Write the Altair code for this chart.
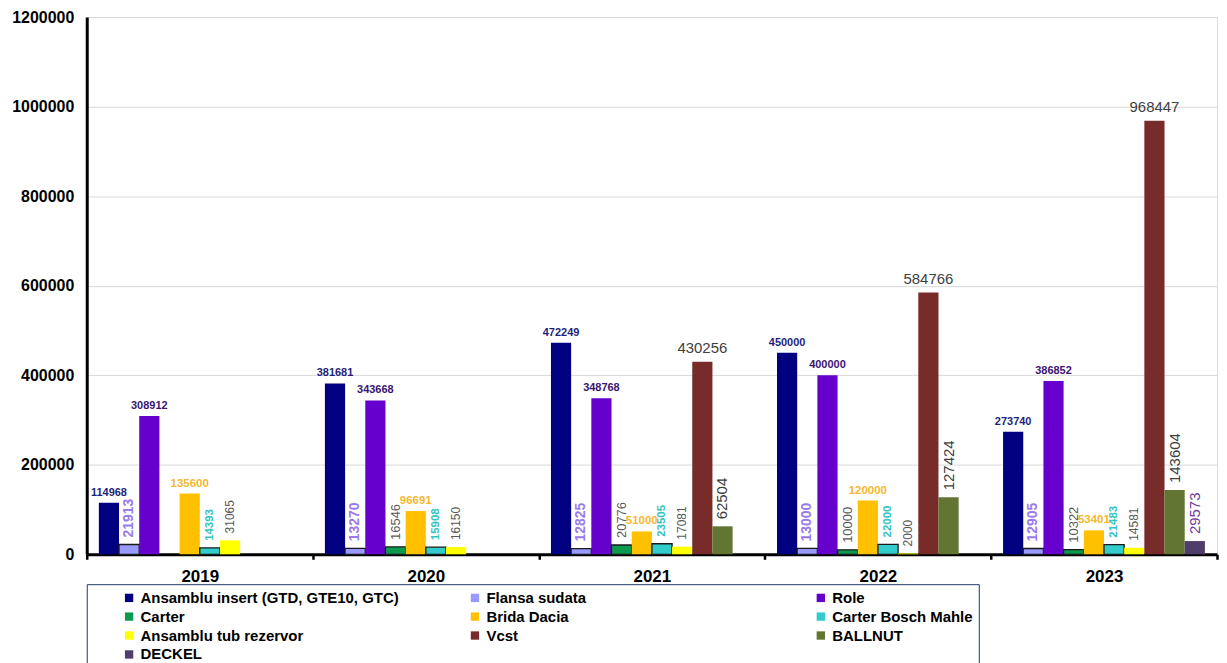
import altair as alt
import pandas as pd

years = ["2019", "2020", "2021", "2022", "2023"]
series = ["Ansamblu insert (GTD, GTE10, GTC)", "Flansa sudata", "Role", "Carter",
          "Brida Dacia", "Carter Bosch Mahle", "Ansamblu tub rezervor", "Vcst",
          "BALLNUT", "DECKEL"]

ansamblu = [114968, 381681, 472249, 450000, 273740]
flansa = [21913, 13270, 12825, 13000, 12905]
role = [308912, 343668, 348768, 400000, 386852]
carter = [None, 16546, 20776, 10000, 10322]
brida = [135600, 96691, 51000, 120000, 53401]
bosch = [14393, 15908, 23505, 22000, 21483]
tub = [31065, 16150, 17081, 2000, 14581]
vcst = [None, None, 430256, 584766, 968447]
ballnut = [None, None, 62504, 127424, 143604]
deckel = [None, None, None, None, 29573]

values_by_series = [ansamblu, flansa, role, carter, brida, bosch, tub, vcst, ballnut, deckel]

# styles
bar_colors = ["#000080", "#9999FF", "#6600CC", "#0E9A4E", "#FFC000", "#33CCCC",
              "#FFFF00", "#772C2A", "#637532", "#4F3D6B"]
outlined = [False, True, False, True, False, True, False, False, False, False]
label_colors = ["#1F1F7A", "#9B7BEA", "#3B1570", "#595959", "#F5B82E", "#33C3C3",
                "#595959", "#404040", "#404040", "#6A3D9A"]
label_sizes = [11, 14, 11, 13, 11.5, 11.5, 12, 15, 15, 15]
label_kind = ["hb", "vb", "hb", "vn", "hb", "vb", "vn", "hn", "vn", "vn"]

rows = []
for si, s in enumerate(series):
    for yi, y in enumerate(years):
        v = values_by_series[si][yi]
        if v is None:
            continue
        rows.append({
            "year": y, "series": s, "value": v,
            "stroke_c": "#1a1a1a" if outlined[si] else bar_colors[si],
            "sw": 1.3 if outlined[si] else 0.0,
            "lcolor": label_colors[si], "lsize": label_sizes[si],
            "kind": label_kind[si],
        })
df = pd.DataFrame(rows)

FONT = "Liberation Sans"

x_enc = alt.X("year:N", sort=years,
              scale=alt.Scale(paddingInner=0, paddingOuter=0),
              axis=alt.Axis(title=None, labelAngle=0, labelFont=FONT, labelFontSize=17,
                            labelFontWeight="bold", labelColor="black", labelPadding=9,
                            domainColor="black", domainWidth=3, tickBand="extent",
                            tickColor="black", tickWidth=2.5, tickSize=5, grid=False))
xo_enc = alt.XOffset("series:N", sort=series,
                     scale=alt.Scale(domain=series, paddingInner=0, paddingOuter=0.6))
y_enc = alt.Y("value:Q",
              scale=alt.Scale(domain=[0, 1200000], nice=False),
              axis=alt.Axis(title=None, values=[0, 200000, 400000, 600000, 800000, 1000000, 1200000],
                            format="d", labelFont=FONT, labelFontSize=16, labelFontWeight="bold",
                            labelColor="black", labelPadding=13, tickSize=0,
                            domainColor="black", domainWidth=3,
                            gridColor="#D9D9D9", gridWidth=1))

base = alt.Chart(df)

bars = base.mark_bar().encode(
    x=x_enc, xOffset=xo_enc, y=y_enc,
    color=alt.Color("series:N", sort=series,
                    scale=alt.Scale(domain=series, range=bar_colors),
                    legend=alt.Legend(title=" ", titleOrient="left", titlePadding=29,
                                      titleFontSize=6,
                                      orient="none", legendX=0, legendY=569,
                                      direction="horizontal", columns=3, gridAlign="all",
                                      columnPadding=68, rowPadding=3, symbolType="square",
                                      symbolSize=70, symbolStrokeWidth=0,
                                      labelFont=FONT, labelFontSize=15, labelFontWeight="bold",
                                      labelColor="black", labelLimit=400,
                                      strokeColor="#1F3864", padding=6)),
    stroke=alt.Stroke("stroke_c:N", scale=None),
    strokeWidth=alt.StrokeWidth("sw:Q", scale=None),
)

def text_layer(kind, **mark_kw):
    return base.transform_filter(alt.datum.kind == kind).mark_text(font=FONT, **mark_kw).encode(
        x=x_enc, xOffset=xo_enc, y=y_enc,
        text=alt.Text("value:Q", format="d"),
        color=alt.Color("lcolor:N", scale=None),
        size=alt.Size("lsize:Q", scale=None),
    )

hb = text_layer("hb", baseline="bottom", dy=-5, fontWeight="bold")
hn = text_layer("hn", baseline="bottom", dy=-6, fontWeight="normal")
vb = text_layer("vb", angle=270, align="left", baseline="middle", dx=7, fontWeight="bold")
vn = text_layer("vn", angle=270, align="left", baseline="middle", dx=7, fontWeight="normal")

chart = alt.layer(bars, hb, hn, vb, vn).properties(
    width=1134, height=539,
    padding={"left": 3, "top": 0, "right": 0, "bottom": 0},
).configure_view(stroke=None).configure(font=FONT)

chart.save("out.html", embed_options={"renderer": "svg", "actions": False})
